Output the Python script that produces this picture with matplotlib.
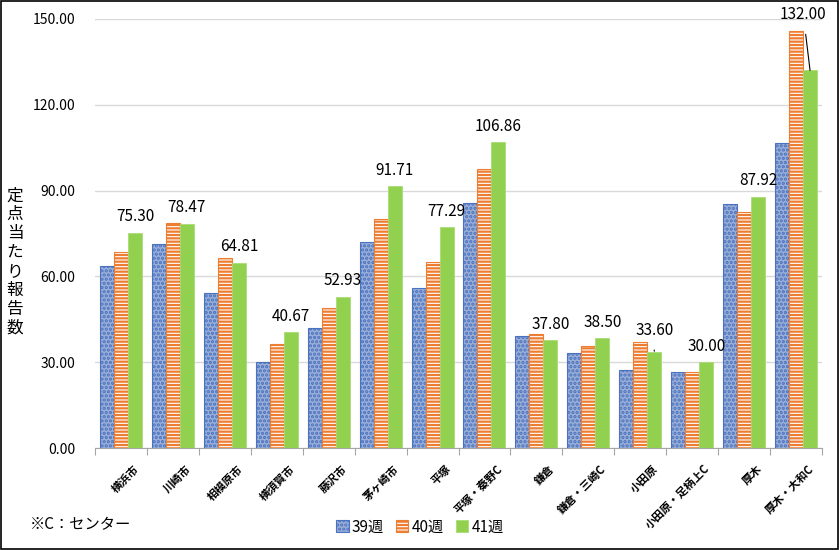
#!/usr/bin/env python

import numpy as np
import matplotlib
matplotlib.use("Agg")
import matplotlib.pyplot as plt
from matplotlib.patches import Rectangle

plt.rcParams['font.family'] = ['Noto Sans CJK JP', 'DejaVu Sans']
plt.rcParams['hatch.linewidth'] = 1.6

areas = ["横浜市", "川崎市", "相模原市", "横須賀市", "藤沢市", "茅ヶ崎市", "平塚",
         "平塚・秦野C", "鎌倉", "鎌倉・三崎C", "小田原", "小田原・足柄上C", "厚木", "厚木・大和C"]
week39 = [63.5, 71.3, 54.3, 30.0, 42.1, 72.1, 55.8, 85.6, 39.0, 33.1, 27.2, 26.6, 85.2, 106.5]
week40 = [68.4, 78.6, 66.3, 36.5, 48.8, 80.1, 64.9, 97.4, 39.9, 35.8, 37.0, 26.6, 82.6, 145.9]
week41 = [75.30, 78.47, 64.81, 40.67, 52.93, 91.71, 77.29, 106.86, 37.80, 38.50, 33.60, 30.00, 87.92, 132.00]
series_names = ["39週", "40週", "41週"]


def main():
    fig = plt.figure(figsize=(8.39, 5.5), dpi=100)
    ax = fig.add_axes([95 / 839, 1 - 448 / 550, 727 / 839, 429 / 550])

    x = np.arange(len(areas))
    w = 0.27

    # 39週: dotted blue pattern
    ax.bar(x - w, week39, w, color="#9aafd8", edgecolor="#4a72c0", linewidth=0.8,
           hatch="....", label=series_names[0], zorder=3)
    # 40週: orange horizontal stripes
    ax.bar(x, week40, w, color="white", edgecolor="#ed7d31", linewidth=0.8,
           hatch="-----", label=series_names[1], zorder=3)
    # 41週: solid green
    ax.bar(x + w, week41, w, color="#92d050", edgecolor="#a9dc74", linewidth=0.6,
           label=series_names[2], zorder=3)

    # value labels on 41週
    for i, v in enumerate(week41):
        if i == 13:
            ax.annotate(f"{v:.2f}", xy=(x[i] + w, v), xytext=(x[i] + w - 0.13, 151.5),
                        ha="center", va="center", fontsize=11,
                        arrowprops=dict(arrowstyle="-", color="black", lw=0.8,
                                        shrinkA=6, shrinkB=0))
        elif i == 10:
            ax.annotate(f"{v:.2f}", xy=(x[i] + w, v), xytext=(x[i] + w, v + 7.5),
                        ha="center", va="center", fontsize=11,
                        arrowprops=dict(arrowstyle="-", color="black", lw=0.8,
                                        shrinkA=6, shrinkB=0.5))
        else:
            ax.text(x[i] + w, v + 2.5, f"{v:.2f}", ha="center", va="bottom", fontsize=11)

    ax.set_ylim(0, 150)
    ax.set_xlim(-0.5, len(areas) - 0.5)
    ax.set_yticks(np.arange(0, 151, 30))
    ax.set_yticklabels([f"{t:.2f}" for t in np.arange(0, 151, 30)], fontsize=10)
    ax.yaxis.grid(True, color="#d9d9d9", linewidth=1, zorder=0)
    ax.set_axisbelow(True)
    ax.tick_params(axis="y", length=0, pad=14)

    # category boundary ticks
    ax.set_xticks(np.arange(-0.5, len(areas) + 0.5, 1))
    ax.set_xticklabels([])
    ax.tick_params(axis="x", length=5, color="#a6a6a6", direction="out")
    for i, name in enumerate(areas):
        ax.text(x[i] + 0.22, -5, name, rotation=45, ha="right", va="top",
                rotation_mode="anchor", fontsize=8, fontweight="bold")

    for s in ["top", "right", "left"]:
        ax.spines[s].set_visible(False)
    ax.spines["bottom"].set_color("#a6a6a6")

    fig.text(15 / 839, 1 - 262 / 550, "\n".join("定点当たり報告数"), ha="center",
             va="center", fontsize=12, linespacing=1.15)
    fig.text(30 / 839, 1 - 525 / 550, "※C：センター", ha="left", va="center", fontsize=11)

    fig.legend(loc="center", bbox_to_anchor=(420 / 839, 1 - 527 / 550), ncol=3,
               frameon=False, fontsize=11, handlelength=0.8, handleheight=0.8,
               handletextpad=0.2, columnspacing=0.8)

    fig.patches.append(Rectangle((0.001, 0.001), 0.998, 0.998, transform=fig.transFigure,
                                 fill=False, edgecolor="black", linewidth=1.2))

    fig.savefig("out.png", dpi=100)


if __name__ == "__main__":
    main()
